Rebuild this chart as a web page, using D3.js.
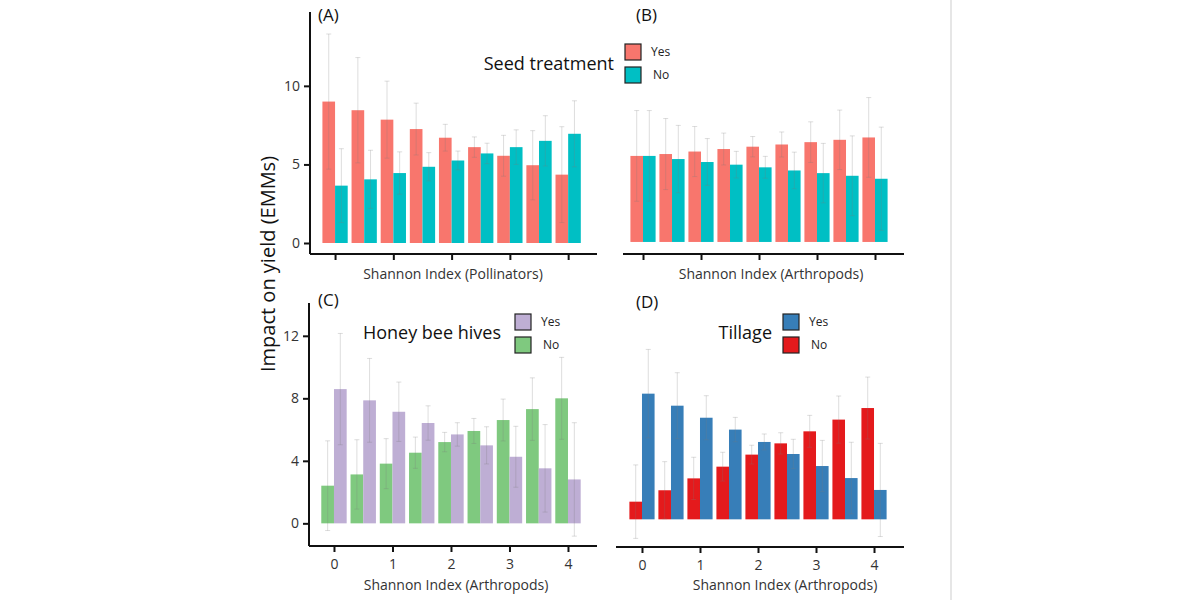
<!DOCTYPE html>
<html>
<head>
<meta charset="utf-8">
<script src="https://cdn.jsdelivr.net/npm/d3@7"></script>
<style>
  body { margin: 0; background: #fff; }
  svg { display: block; font-family: "Open Sans", sans-serif; }
</style>
</head>
<body>
<svg id="chart" width="1200" height="600"></svg>
<script>
// Shannon index values (x positions of bar groups)
const shannon = [0, 0.5, 1, 1.5, 2, 2.5, 3, 3.5, 4];

// (A) Seed treatment vs Shannon Index (Pollinators)
const seedYesA = [9.0, 8.45, 7.85, 7.25, 6.7, 6.1, 5.55, 4.95, 4.35];
const seedYesErrA = [4.3, 3.35, 2.45, 1.65, 0.85, 0.65, 1.3, 2.2, 3.05];
const seedNoA = [3.65, 4.05, 4.45, 4.85, 5.25, 5.7, 6.1, 6.5, 6.95];
const seedNoErrA = [2.35, 1.85, 1.35, 0.9, 0.6, 0.65, 1.1, 1.6, 2.1];

// (B) Seed treatment vs Shannon Index (Arthropods)
const seedYesB = [5.5, 5.62, 5.78, 5.94, 6.09, 6.23, 6.38, 6.53, 6.68];
const seedYesErrB = [2.9, 2.27, 1.6, 1.02, 0.65, 0.8, 1.3, 1.9, 2.55];
const seedNoB = [5.5, 5.3, 5.11, 4.94, 4.77, 4.57, 4.4, 4.23, 4.04];
const seedNoErrB = [2.9, 2.15, 1.5, 0.85, 0.7, 1.17, 1.9, 2.55, 3.3];

// (C) Honey bee hives vs Shannon Index (Arthropods)
const hivesNoC = [2.41, 3.13, 3.82, 4.52, 5.2, 5.91, 6.61, 7.31, 8.0];
const hivesNoErrC = [2.87, 2.22, 1.6, 1.0, 0.62, 0.8, 1.34, 2.0, 2.62];
const hivesYesC = [8.59, 7.87, 7.14, 6.42, 5.69, 4.99, 4.26, 3.52, 2.81];
const hivesYesErrC = [3.56, 2.68, 1.9, 1.1, 0.75, 1.19, 1.95, 2.8, 3.63];

// (D) Tillage vs Shannon Index (Arthropods)
const tillNoD = [1.13, 1.86, 2.62, 3.37, 4.14, 4.86, 5.63, 6.38, 7.12];
const tillNoErrD = [2.35, 1.83, 1.35, 0.92, 0.6, 0.68, 1.02, 1.51, 1.98];
const tillYesD = [8.04, 7.27, 6.5, 5.74, 4.95, 4.18, 3.41, 2.64, 1.88];
const tillYesErrD = [2.83, 2.11, 1.41, 0.78, 0.51, 0.94, 1.64, 2.29, 2.98];

const xTicks = [0, 1, 2, 3, 4];
const yTicksTop = [0, 5, 10];
const yTicksBottom = [0, 4, 8, 12];

const colors = {
  seedYes: '#F8766D', seedNo: '#00BFC4',
  hivesYes: '#BEAED4', hivesNo: '#7FC97F',
  tillYes: '#377EB8', tillNo: '#E41A1C'
};

const svg = d3.select('#chart');

// light divider on the right
svg.append('rect')
  .attr('x', 950).attr('y', 0)
  .attr('width', 2).attr('height', 600)
  .attr('fill', '#e6e6e6');

// Draw one panel: two bar series per Shannon group, with error bars
function drawPanel(p) {
  const g = svg.append('g');

  const x = d3.scaleLinear().domain(p.xDomain).range([p.left, p.right]);
  const y = d3.scaleLinear().domain(p.yDomain).range([p.bottom, p.top]);
  const barW = x(0.217) - x(0);

  p.series.forEach((s, si) => {
    const offset = si === 0 ? -barW : 0;
    g.selectAll(null)
      .data(shannon)
      .enter().append('rect')
      .attr('x', d => x(d) + offset)
      .attr('y', (d, i) => y(s.values[i]))
      .attr('width', barW)
      .attr('height', (d, i) => y(0) - y(s.values[i]))
      .attr('fill', s.color);
  });

  // error bars drawn above bars
  p.series.forEach((s, si) => {
    const cx = d => x(d) + (si === 0 ? -barW / 2 : barW / 2);
    const eb = g.selectAll(null)
      .data(shannon)
      .enter().append('g')
      .attr('stroke', '#7a7a7a')
      .attr('stroke-opacity', 0.25)
      .attr('stroke-width', 1);
    eb.append('line')
      .attr('x1', cx).attr('x2', cx)
      .attr('y1', (d, i) => y(s.values[i] - s.err[i]))
      .attr('y2', (d, i) => y(s.values[i] + s.err[i]));
    [-1, 1].forEach(sign => {
      eb.append('line')
        .attr('x1', d => cx(d) - 2.5).attr('x2', d => cx(d) + 2.5)
        .attr('y1', (d, i) => y(s.values[i] + sign * s.err[i]))
        .attr('y2', (d, i) => y(s.values[i] + sign * s.err[i]));
    });
  });

  // x axis
  const xAxis = g.append('g')
    .attr('transform', `translate(0,${p.bottom})`)
    .call(d3.axisBottom(x).tickValues(xTicks)
      .tickSize(6).tickPadding(7)
      .tickFormat(p.xLabels ? d3.format('d') : ''));
  xAxis.select('.domain').attr('stroke', '#111').attr('stroke-width', 2)
    .attr('d', `M${p.left},0H${p.right}`);
  xAxis.selectAll('.tick line').attr('stroke', '#111').attr('stroke-width', 2);
  xAxis.selectAll('.tick text').attr('font-size', 14).attr('fill', '#333')
    .attr('font-family', '"Open Sans", sans-serif');

  // y axis
  if (p.yTicks) {
    const yAxis = g.append('g')
      .attr('transform', `translate(${p.left},0)`)
      .call(d3.axisLeft(y).tickValues(p.yTicks).tickSize(6).tickPadding(4));
    yAxis.select('.domain').attr('stroke', '#111').attr('stroke-width', 2)
      .attr('d', `M0,${p.top}V${p.bottom}`);
    yAxis.selectAll('.tick line').attr('stroke', '#111').attr('stroke-width', 2);
    yAxis.selectAll('.tick text').attr('font-size', 14).attr('fill', '#333')
      .attr('font-family', '"Open Sans", sans-serif');
  }

  // x axis title
  g.append('text')
    .attr('x', p.titleX).attr('y', p.titleY)
    .attr('text-anchor', 'middle')
    .attr('font-size', 14).attr('fill', '#333')
    .text(p.xTitle);

  // panel tag
  g.append('text')
    .attr('x', p.tagX).attr('y', p.tagY)
    .attr('font-size', 17).attr('fill', '#111')
    .text(p.tag);

  // legend
  if (p.legend) {
    const L = p.legend;
    g.append('text')
      .attr('x', L.titleX).attr('y', L.titleY)
      .attr('text-anchor', 'end')
      .attr('font-size', 18).attr('fill', '#111')
      .text(L.title);
    L.items.forEach((it, i) => {
      g.append('rect')
        .attr('x', L.x).attr('y', L.y + i * 23)
        .attr('width', 16).attr('height', 16)
        .attr('fill', it.color)
        .attr('stroke', '#222').attr('stroke-width', 1.2);
      g.append('text')
        .attr('x', L.x + 26 + (i === 1 ? 2 : 0)).attr('y', L.y + i * 23 + 12)
        .attr('font-size', 12).attr('fill', '#222')
        .text(it.label);
    });
  }
}

drawPanel({
  tag: '(A)', tagX: 318, tagY: 21,
  left: 310, right: 597, top: 12, bottom: 254,
  xDomain: [-0.43, 4.495], yDomain: [-0.7, 14.7],
  yTicks: yTicksTop, xLabels: false,
  xTitle: 'Shannon Index (Pollinators)', titleX: 453, titleY: 279,
  series: [
    { values: seedYesA, err: seedYesErrA, color: colors.seedYes },
    { values: seedNoA, err: seedNoErrA, color: colors.seedNo }
  ],
  legend: {
    title: 'Seed treatment', titleX: 614, titleY: 70,
    x: 625, y: 44,
    items: [
      { label: 'Yes', color: colors.seedYes },
      { label: 'No', color: colors.seedNo }
    ]
  }
});

drawPanel({
  tag: '(B)', tagX: 636, tagY: 21,
  left: 623, right: 904, top: 12, bottom: 254,
  xDomain: [-0.345, 4.5], yDomain: [-0.77, 14.7],
  yTicks: null, xLabels: false,
  xTitle: 'Shannon Index (Arthropods)', titleX: 771, titleY: 279,
  series: [
    { values: seedYesB, err: seedYesErrB, color: colors.seedYes },
    { values: seedNoB, err: seedNoErrB, color: colors.seedNo }
  ]
});

drawPanel({
  tag: '(C)', tagX: 318, tagY: 306,
  left: 309, right: 597, top: 303, bottom: 546,
  xDomain: [-0.427, 4.496], yDomain: [-1.45, 14.1],
  yTicks: yTicksBottom, xLabels: true,
  xTitle: 'Shannon Index (Arthropods)', titleX: 456, titleY: 590,
  series: [
    { values: hivesNoC, err: hivesNoErrC, color: colors.hivesNo },
    { values: hivesYesC, err: hivesYesErrC, color: colors.hivesYes }
  ],
  legend: {
    title: 'Honey bee hives', titleX: 501, titleY: 339,
    x: 515, y: 314,
    items: [
      { label: 'Yes', color: colors.hivesYes },
      { label: 'No', color: colors.hivesNo }
    ]
  }
});

drawPanel({
  tag: '(D)', tagX: 636, tagY: 308,
  left: 616, right: 904, top: 303, bottom: 547,
  xDomain: [-0.448, 4.517], yDomain: [-1.77, 13.84],
  yTicks: null, xLabels: true,
  xTitle: 'Shannon Index (Arthropods)', titleX: 785, titleY: 590,
  series: [
    { values: tillNoD, err: tillNoErrD, color: colors.tillNo },
    { values: tillYesD, err: tillYesErrD, color: colors.tillYes }
  ],
  legend: {
    title: 'Tillage', titleX: 772, titleY: 339,
    x: 783, y: 314,
    items: [
      { label: 'Yes', color: colors.tillYes },
      { label: 'No', color: colors.tillNo }
    ]
  }
});

// shared y axis title
svg.append('text')
  .attr('transform', 'translate(275,372) rotate(-90)')
  .attr('font-size', 20).attr('fill', '#111')
  .text('Impact on yield (EMMs)');
</script>
</body>
</html>
